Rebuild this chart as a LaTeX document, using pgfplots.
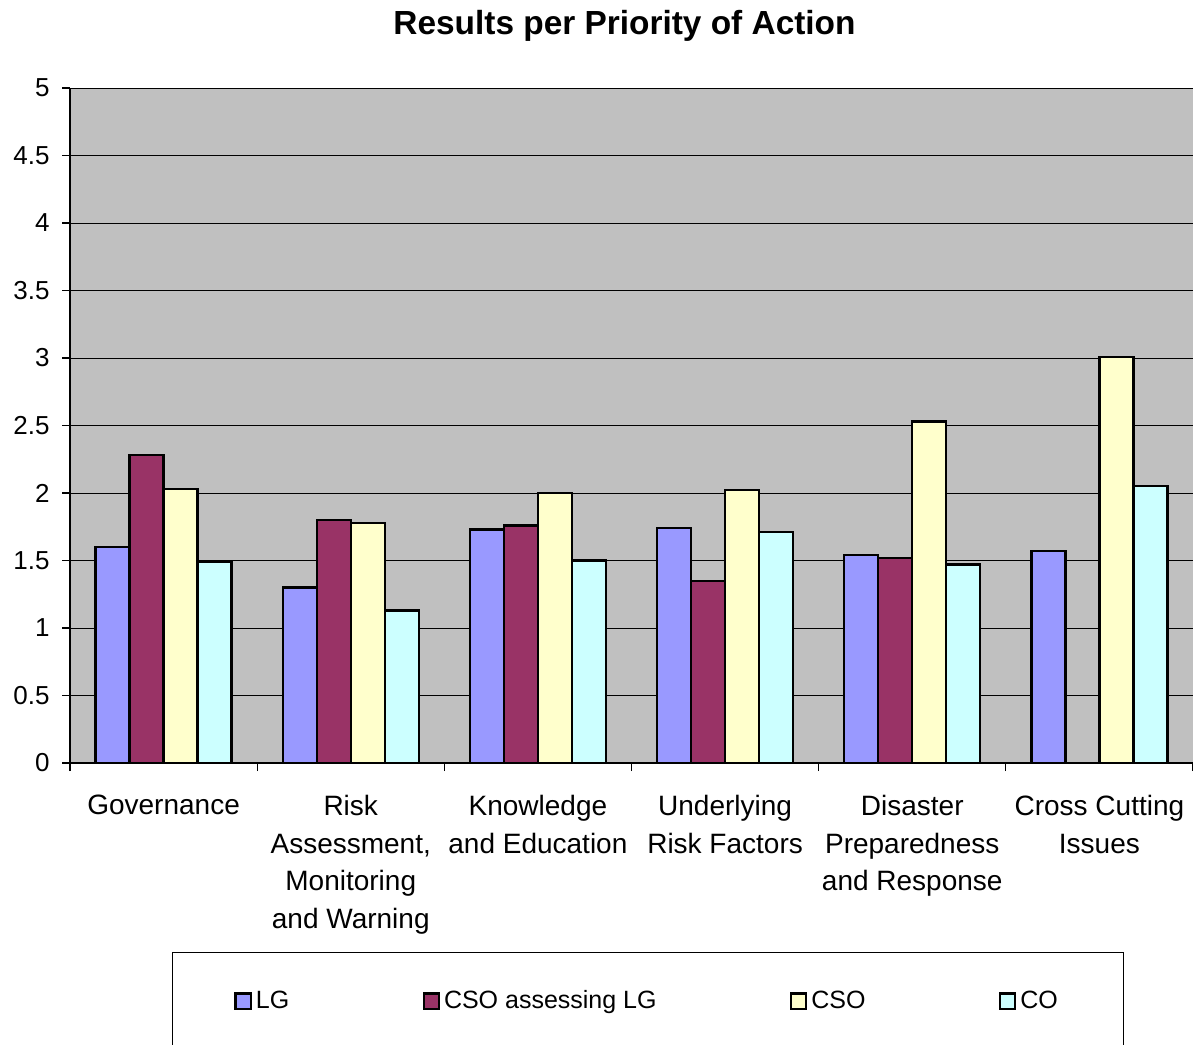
\documentclass[border=0pt]{standalone}
\usepackage{fontspec}
\setmainfont{Liberation Sans}
\usepackage{pgfplots}
\pgfplotsset{compat=1.18}
\definecolor{cLG}{HTML}{9999FF}
\definecolor{cCSOLG}{HTML}{993366}
\definecolor{cCSO}{HTML}{FFFFCC}
\definecolor{cCO}{HTML}{CCFFFF}
\definecolor{plotbg}{HTML}{C0C0C0}
\pgfplotsset{
  leg/.style={legend image code/.code={\draw[##1,line width=1.1pt] (0pt,-3.8pt) rectangle (7.6pt,3.8pt);}},
}
\begin{document}
\begin{tikzpicture}
\begin{axis}[
  at={(35pt,140.5pt)}, anchor=south west,
  scale only axis, width=561.5pt, height=337.5pt,
  xmin=-0.5, xmax=5.5, ymin=0, ymax=5,
  axis lines*=left, axis line style={black, line width=0.6pt, -},
  axis background/.style={fill=plotbg},
  ybar=0pt, bar width=17pt,
  ymajorgrids, grid style={black, line width=0.5pt},
  ytick={0,0.5,...,5},
  tick align=outside, major tick length=4pt,
  tick style={black, line width=0.6pt},
  /pgf/number format/fixed, /pgf/number format/assume math mode=true,
  yticklabel style={font=\fontsize{13}{15}\selectfont, inner sep=0pt, xshift=-6pt},
  xtick={-0.5,0.5,1.5,2.5,3.5,4.5,5.5}, xticklabels={{},{},{},{},{},{},{}},
  extra x ticks={0,1,2,3,4,5},
  extra x tick labels={Governance, {Risk\\Assessment,\\Monitoring\\and Warning}, {Knowledge\\and Education}, {Underlying\\Risk Factors}, {Disaster\\Preparedness\\and Response}, {Cross Cutting\\Issues}},
  extra x tick style={major tick length=0pt, tick label style={font=\fontsize{14}{18.75}\selectfont, align=center, anchor=north, inner sep=0pt, yshift=-16pt}},
  legend columns=4,
  legend style={at={(axis description cs:0.0908,-0.28)}, anchor=north west, draw=black, line width=0.5pt,
    inner xsep=31pt, inner ysep=17pt, font=\fontsize{12.5}{15}\selectfont,
    /tikz/every even column/.append style={column sep=64.7pt}},
]
\addplot[fill=cLG, draw=black, line width=1.1pt, leg] coordinates {(0,1.60) (1,1.30) (2,1.73) (3,1.74) (4,1.54) (5,1.57)};
\addplot[fill=cCSOLG, draw=black, line width=1.1pt, leg] coordinates {(0,2.28) (1,1.80) (2,1.76) (3,1.35) (4,1.52)};
\addplot[fill=cCSO, draw=black, line width=1.1pt, leg] coordinates {(0,2.03) (1,1.78) (2,2.00) (3,2.02) (4,2.53) (5,3.01)};
\addplot[fill=cCO, draw=black, line width=1.1pt, leg] coordinates {(0,1.49) (1,1.13) (2,1.50) (3,1.71) (4,1.47) (5,2.05)};
\legend{LG, CSO assessing LG, CSO, CO}
\end{axis}
\node[font=\bfseries\fontsize{16.7}{20}\selectfont, anchor=base] at (312.25pt,504.5pt) {Results per Priority of Action};
\pgfresetboundingbox
\path[use as bounding box] (0,0) rectangle (596.5pt,522pt);
\end{tikzpicture}
\end{document}
